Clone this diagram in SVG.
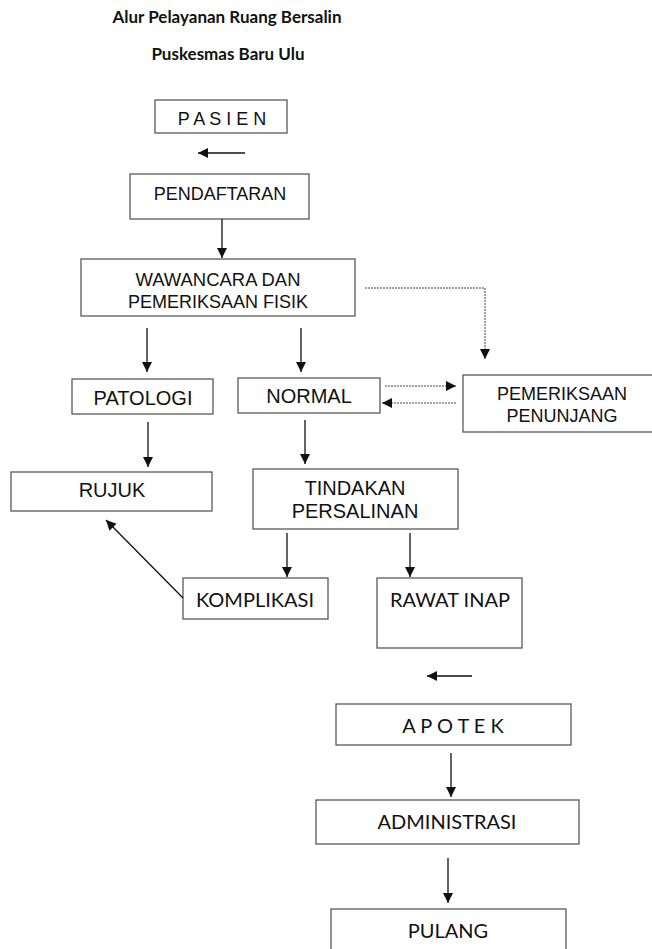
<svg xmlns="http://www.w3.org/2000/svg" width="652" height="949" viewBox="0 0 652 949">
<style>
.box{fill:#fff;stroke:#5a5a5a;stroke-width:1.3}
.a{font-family:"Liberation Sans",Arial,sans-serif;font-size:18px;fill:#111;text-anchor:middle}
.b{font-family:"Liberation Sans",Arial,sans-serif;font-size:20px;fill:#111;text-anchor:middle}
.l{font-family:Lato,"Liberation Sans",sans-serif;font-size:20px;fill:#111;text-anchor:middle}
.t{font-family:Lato,"Liberation Sans",sans-serif;font-size:17px;font-weight:bold;fill:#111;text-anchor:middle}
.c{stroke:#111;stroke-width:1.3;fill:none}
.d{stroke:#444;stroke-width:1;fill:none;stroke-dasharray:2 1}
</style>
<defs>
<marker id="ah" viewBox="0 0 10 10" refX="10" refY="5" markerWidth="10" markerHeight="10" markerUnits="userSpaceOnUse" orient="auto">
<path d="M0,0 L10,5 L0,10 z" fill="#111"/>
</marker>
</defs>
<g id="title">
<text class="t" x="227" y="23">Alur Pelayanan Ruang Bersalin</text>
<text class="t" x="228" y="60">Puskesmas Baru Ulu</text>
</g>
<g id="pasien"><rect class="box" x="155" y="100" width="132" height="33"/><text class="a" x="222" y="125">P A S I E N</text></g>
<g id="pendaftaran"><rect class="box" x="130" y="174" width="179" height="45"/><text class="a" x="220" y="200">PENDAFTARAN</text></g>
<g id="wawancara"><rect class="box" x="81" y="259" width="274" height="57"/><text class="a" x="218" y="286" textLength="165" lengthAdjust="spacingAndGlyphs">WAWANCARA DAN</text><text class="a" x="218" y="308">PEMERIKSAAN FISIK</text></g>
<g id="patologi"><rect class="box" x="72" y="379" width="141" height="35"/><text class="b" x="143" y="405">PATOLOGI</text></g>
<g id="normal"><rect class="box" x="238" y="378" width="142" height="35"/><text class="b" x="309" y="403">NORMAL</text></g>
<g id="penunjang"><rect class="box" x="463" y="375" width="195" height="57"/><text class="a" x="562" y="400">PEMERIKSAAN</text><text class="a" x="562" y="422">PENUNJANG</text></g>
<g id="rujuk"><rect class="box" x="11" y="472" width="201" height="39"/><text class="b" x="112" y="497">RUJUK</text></g>
<g id="tindakan"><rect class="box" x="253" y="469" width="205" height="60"/><text class="b" x="355" y="495">TINDAKAN</text><text class="b" x="355" y="518">PERSALINAN</text></g>
<g id="komplikasi"><rect class="box" x="183" y="578" width="145" height="41"/><text class="l" x="255" y="607">KOMPLIKASI</text></g>
<g id="rawatinap"><rect class="box" x="377" y="578" width="145" height="70"/><text class="l" x="450" y="607">RAWAT INAP</text></g>
<g id="apotek"><rect class="box" x="336" y="704" width="235" height="41"/><text class="l" x="453" y="733">A P O T E K</text></g>
<g id="administrasi"><rect class="box" x="316" y="800" width="263" height="44"/><text class="l" x="447" y="829">ADMINISTRASI</text></g>
<g id="pulang"><rect class="box" x="331" y="909" width="235" height="50"/><text class="l" x="448" y="938">PULANG</text></g>
<g id="connectors">
<line class="c" x1="245" y1="153" x2="198" y2="153" marker-end="url(#ah)"/>
<line class="c" x1="222" y1="219" x2="222" y2="258" marker-end="url(#ah)"/>
<line class="c" x1="147" y1="328" x2="147" y2="372" marker-end="url(#ah)"/>
<line class="c" x1="301" y1="328" x2="301" y2="372" marker-end="url(#ah)"/>
<polyline class="d" points="365,288 485,288 485,359" marker-end="url(#ah)"/>
<line class="d" x1="385" y1="386" x2="456" y2="386" marker-end="url(#ah)"/>
<line class="d" x1="456" y1="403" x2="382" y2="403" marker-end="url(#ah)"/>
<line class="c" x1="148" y1="422" x2="148" y2="467" marker-end="url(#ah)"/>
<line class="c" x1="305" y1="420" x2="305" y2="464" marker-end="url(#ah)"/>
<line class="c" x1="287" y1="533" x2="287" y2="577" marker-end="url(#ah)"/>
<line class="c" x1="410" y1="533" x2="410" y2="577" marker-end="url(#ah)"/>
<line class="c" x1="183" y1="598" x2="106" y2="520" marker-end="url(#ah)"/>
<line class="c" x1="472" y1="676" x2="427" y2="676" marker-end="url(#ah)"/>
<line class="c" x1="451" y1="753" x2="451" y2="797" marker-end="url(#ah)"/>
<line class="c" x1="448" y1="858" x2="448" y2="903" marker-end="url(#ah)"/>
</g>
</svg>
